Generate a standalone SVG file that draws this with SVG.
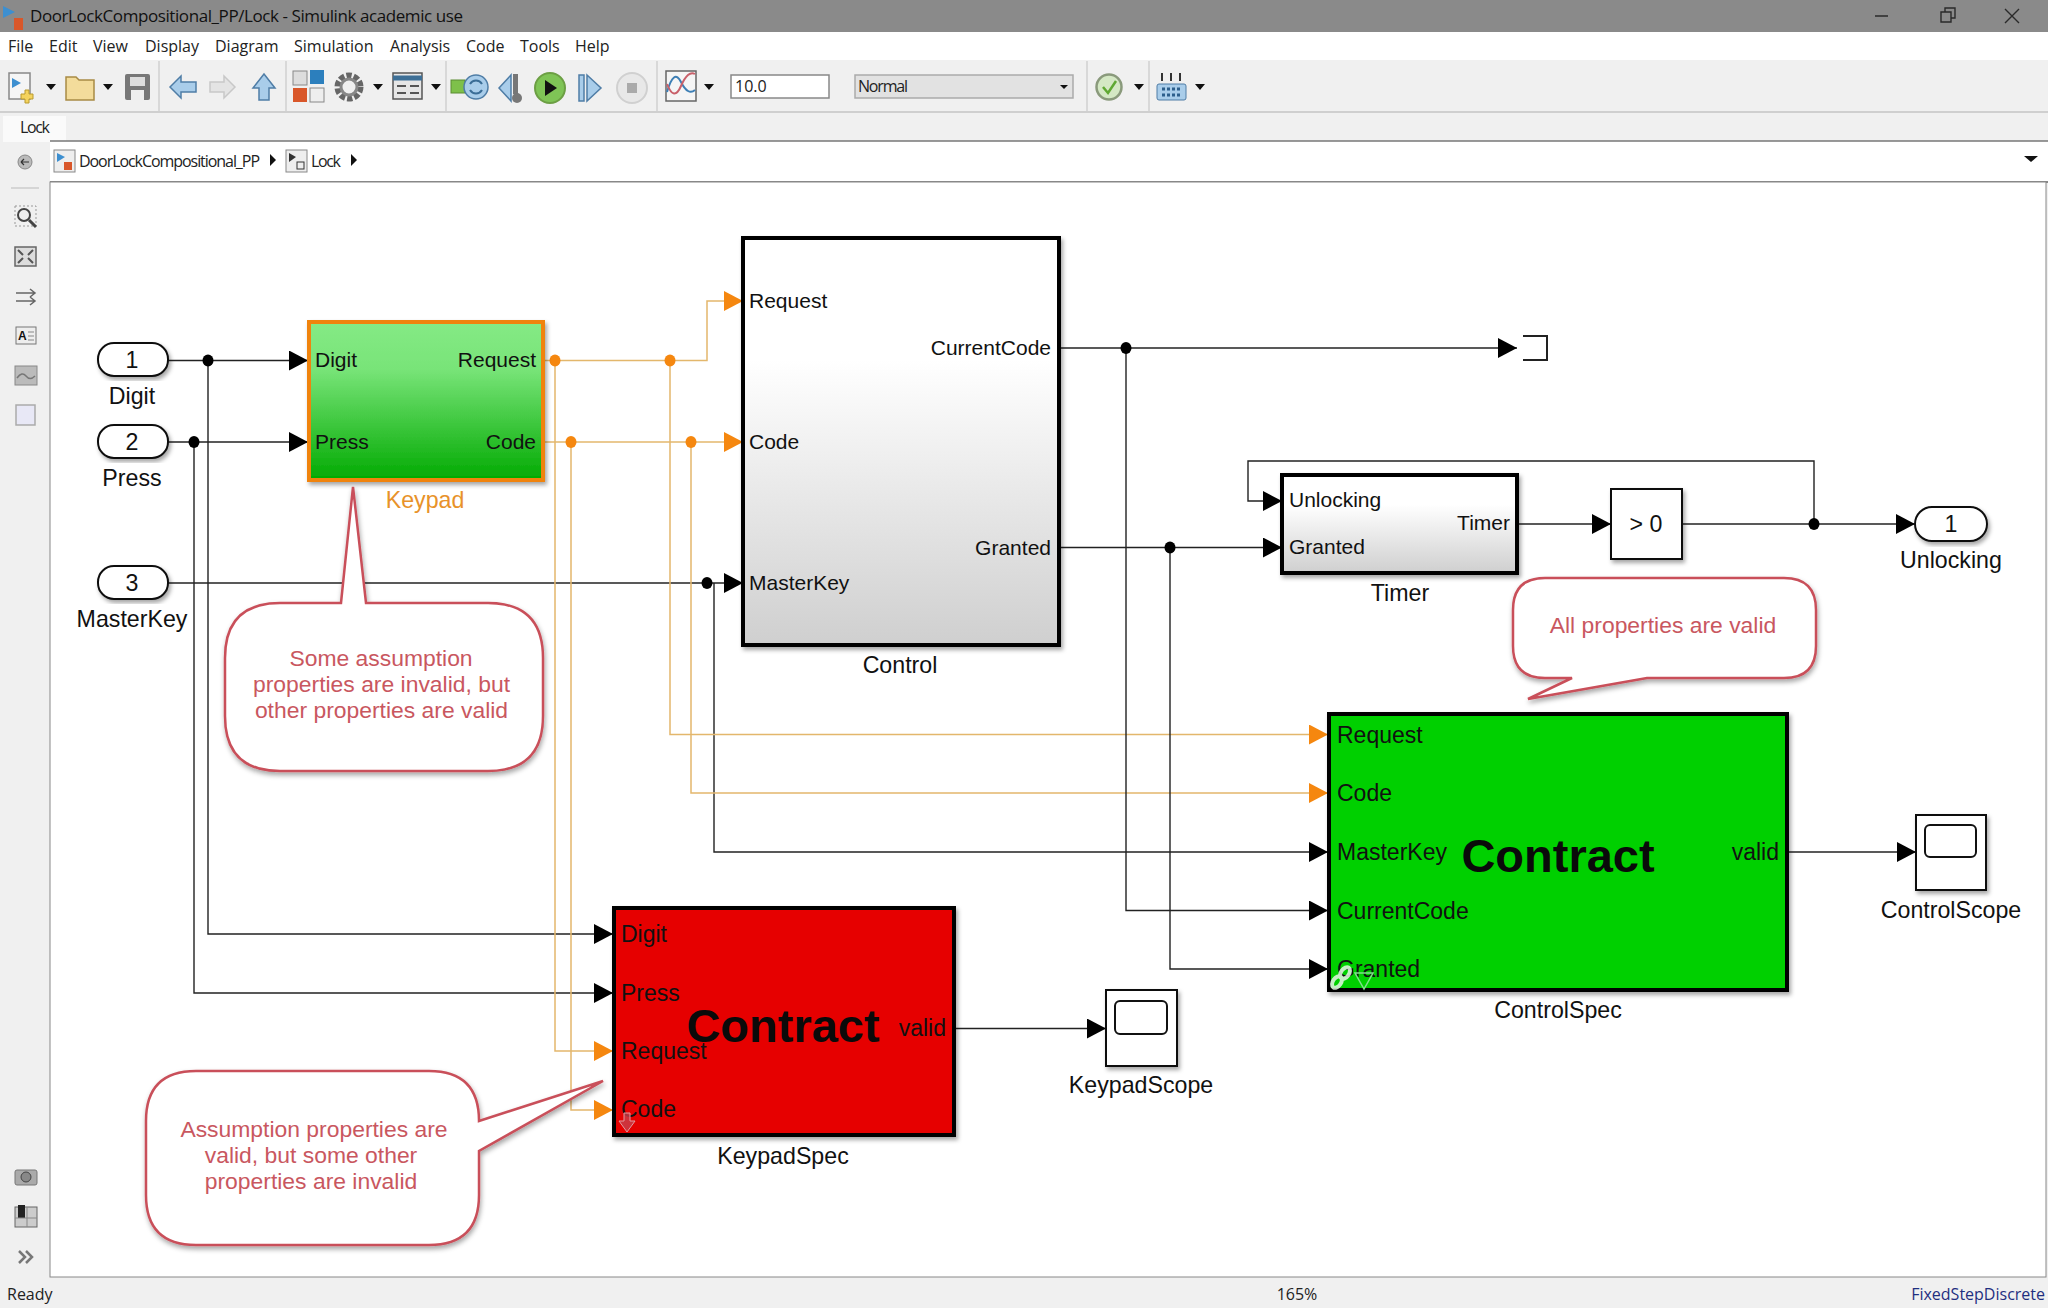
<svg xmlns="http://www.w3.org/2000/svg" width="2048" height="1308" viewBox="0 0 2048 1308">
<style>
text{font-family:"Liberation Sans",Arial,sans-serif;fill:#111}
.ui{font-family:"Open Sans","Noto Sans",sans-serif;font-size:16px;fill:#222}
.p{font-size:21px}.s{font-size:23px}.n{font-size:23.2px;text-anchor:middle}.e{text-anchor:end}
.c{font-size:47px;font-weight:700;text-anchor:middle;fill:#0a0a0a}
.k{fill:none;stroke:#222;stroke-width:1.4}
.o{fill:none;stroke:#e3b76c;stroke-width:1.5}
.ka{marker-end:url(#ab)}.oa{marker-end:url(#ao)}
.call{fill:#fff;stroke:#c9505a;stroke-width:2.5;filter:url(#sh2);stroke-linejoin:miter}
.ct{font-size:22.9px;text-anchor:middle;fill:#c9575f}
.blk{stroke:#000;stroke-width:4;filter:url(#sh)}
.thin{fill:#fff;stroke:#111;stroke-width:2;filter:url(#sh)}
.port{fill:#fff;stroke:#111;stroke-width:2;filter:url(#sh)}
.tri{fill:#111}.sep{stroke:#cfcfcf;stroke-width:1.5}
.ic{fill:#dcdcdc;stroke:#666;stroke-width:1.5}
.blue{fill:#a9cdea;stroke:#4f7da6;stroke-width:1.5}
</style>
<defs>
<marker id="ab" markerUnits="userSpaceOnUse" markerWidth="20" markerHeight="20" refX="19" refY="10" orient="auto"><path d="M0 0L19 10L0 20Z" fill="#000"/></marker>
<marker id="ao" markerUnits="userSpaceOnUse" markerWidth="20" markerHeight="20" refX="19" refY="10" orient="auto"><path d="M0 0L19 10L0 20Z" fill="#f5870f"/></marker>
<linearGradient id="gk" x1="0" y1="0" x2="0" y2="1"><stop offset="0" stop-color="#85ea85"/><stop offset=".3" stop-color="#78e478"/><stop offset="1" stop-color="#02aa02"/></linearGradient>
<linearGradient id="gw" x1="0" y1="0" x2="0" y2="1"><stop offset="0" stop-color="#fff"/><stop offset=".3" stop-color="#fff"/><stop offset="1" stop-color="#cfcfcf"/></linearGradient>
<filter id="sh" x="-10%" y="-10%" width="125%" height="125%"><feDropShadow dx="2" dy="3" stdDeviation="2" flood-color="#000" flood-opacity=".35"/></filter>
<filter id="sh2" x="-10%" y="-10%" width="125%" height="125%"><feDropShadow dx="1" dy="3" stdDeviation="2.5" flood-color="#000" flood-opacity=".35"/></filter>
</defs>

<rect width="2048" height="1308" fill="#f0f0f0"/>
<g id="titlebar">
<rect width="2048" height="32" fill="#8a8a8a"/>
<path d="M3 6L15 12L3 18Z" fill="#3d8fd0"/><rect x="14" y="18" width="9" height="12" fill="#d9572a"/>
<text class="ui" x="30" y="22" textLength="433" style="font-size:17px;fill:#111">DoorLockCompositional_PP/Lock - Simulink academic use</text>
<path d="M1875 16H1888M1941 12h10v10h-10zM1945 12v-4h10v10h-4M2005 9l14 14M2019 9l-14 14" fill="none" stroke="#2a2a2a" stroke-width="1.4"/>
</g>
<g id="menubar">
<rect y="32" width="2048" height="28" fill="#fff"/>
<text class="ui" x="8" y="52">File</text><text class="ui" x="49" y="52">Edit</text><text class="ui" x="93" y="52">View</text><text class="ui" x="145" y="52">Display</text><text class="ui" x="215" y="52">Diagram</text><text class="ui" x="294" y="52">Simulation</text><text class="ui" x="390" y="52">Analysis</text><text class="ui" x="466" y="52">Code</text><text class="ui" x="520" y="52">Tools</text><text class="ui" x="575" y="52">Help</text>
</g>
<g id="toolbar">
<line x1="0" y1="112" x2="2048" y2="112" stroke="#c4c4c4" stroke-width="1.5"/>
<path class="sep" d="M159 61V112M286 61V112M446 61V112M657 61V112M1087 61V112M1149 61V112"/>
<rect x="9" y="73" width="21" height="26" fill="#f5f5f5" stroke="#888" stroke-width="1.5"/><path d="M12 78l9 5l-9 5z" fill="#3d8fd0"/><path d="M25 90h4v4h4v5h-4v4h-4v-4h-4v-5h4z" fill="#f4d35e" stroke="#b99a2e"/>
<path class="tri" d="M46 84h10l-5 6zM103 84h10l-5 6zM373 84h10l-5 6zM431 84h10l-5 6zM704 84h10l-5 6zM1134 84h10l-5 6zM1195 84h10l-5 6z"/>
<path d="M66 77h10l3 3h15v20H66z" fill="#f3dc9b" stroke="#a88b45" stroke-width="1.5"/>
<rect x="125" y="74" width="25" height="26" rx="2" fill="#777"/><rect x="130" y="77" width="15" height="9" fill="#ddd"/><rect x="131" y="90" width="13" height="10" fill="#eee"/>
<path class="blue" d="M170 87l11-11v6h15v10h-15v6z"/>
<path d="M235 87l-11-11v6h-14v10h14v6z" fill="#e4e4e4" stroke="#c8c8c8" stroke-width="1.5"/>
<path class="blue" d="M264 74l11 14h-6v12h-10V88h-6z"/>
<rect x="293" y="71" width="14" height="14" fill="#ddd" stroke="#888"/><rect x="310" y="70" width="14" height="14" fill="#2c7fbd"/><rect x="293" y="88" width="14" height="14" fill="#d9572a"/><rect x="310" y="88" width="14" height="14" fill="#eee" stroke="#888"/>
<circle cx="349" cy="87" r="11" fill="none" stroke="#666" stroke-width="7" stroke-dasharray="5 2"/><circle cx="349" cy="87" r="8" fill="none" stroke="#888" stroke-width="3"/>
<rect x="393" y="73" width="29" height="26" fill="#e6e6e6" stroke="#555" stroke-width="1.5"/><path d="M393 78h29" stroke="#3d6f96" stroke-width="5"/><path d="M397 86h9M410 86h9M397 93h9M410 93h9" stroke="#555" stroke-width="2"/>
<rect x="451" y="80" width="14" height="13" fill="#7ec04a" stroke="#5a8c32"/><circle cx="476" cy="87" r="12" class="blue"/><path d="M470 84a7 7 0 0 1 12 0M482 90a7 7 0 0 1-12 0" fill="none" stroke="#3b6d96" stroke-width="2"/>
<path class="blue" d="M499 88l12-13v26z"/><rect x="513" y="74" width="5" height="20" fill="#777"/><circle cx="517" cy="98" r="5" fill="#777"/>
<circle cx="550" cy="88" r="15" fill="#7fc456" stroke="#6c9f44" stroke-width="2"/><path d="M545 80l12 8l-12 8z" fill="#111"/>
<rect x="579" y="75" width="5" height="26" class="blue"/><path class="blue" d="M587 75l14 13l-14 13z"/>
<circle cx="632" cy="88" r="15" fill="#e8e8e8" stroke="#d0d0d0" stroke-width="2"/><rect x="627" y="83" width="10" height="10" fill="#aaa"/>
<rect x="666" y="71" width="30" height="30" fill="#f5f5f5" stroke="#666" stroke-width="1.5"/><path d="M667 92q7-24 14-10t14 8" fill="none" stroke="#3d7fb5" stroke-width="2"/><path d="M667 84q7 18 14 2t14-12" fill="none" stroke="#c9606a" stroke-width="2"/>
<rect x="731" y="75" width="98" height="23" fill="#fff" stroke="#888" stroke-width="1.5"/><text class="ui" x="735" y="92">10.0</text>
<rect x="855" y="75" width="218" height="23" fill="#e2e2e2" stroke="#aaa" stroke-width="1.5"/><text class="ui" x="858" y="92" textLength="50">Normal</text><path class="tri" d="M1060 85h8l-4 4z"/>
<circle cx="1109" cy="87" r="12.5" fill="#d4e8c4" stroke="#8a9a7c" stroke-width="2.5"/><path d="M1103 87l5 6l8-12" fill="none" stroke="#5fa832" stroke-width="2.5"/>
<rect x="1157" y="84" width="29" height="16" rx="2" fill="#a9cdea" stroke="#4f7da6"/><path d="M1162 73v8M1171 73v8M1180 73v8" stroke="#333" stroke-width="2"/><path d="M1162 89h20M1162 95h20" stroke="#2d5f8c" stroke-width="3" stroke-dasharray="3 2"/>
</g>
<g id="tabs">
<rect x="3" y="116" width="63" height="26" fill="#fafafa"/>
<text class="ui" x="20" y="133" textLength="30">Lock</text>
</g>
<g id="breadcrumb">
<rect x="50" y="141" width="1998" height="41" fill="#fff"/>
<path d="M50 141H2048" stroke="#777" stroke-width="1.5"/><path d="M50 182H2048" stroke="#888" stroke-width="2"/>
<rect x="54" y="150" width="21" height="22" fill="#eee" stroke="#888"/><path d="M57 153l8 4l-8 5z" fill="#3d8fd0"/><rect x="64" y="162" width="8" height="8" fill="#d9572a"/>
<text class="ui" x="79" y="167" textLength="181">DoorLockCompositional_PP</text><path class="tri" d="M270 154l6 6l-6 6z"/>
<rect x="286" y="150" width="21" height="22" fill="#eee" stroke="#888"/><path d="M289 153l7 4l-7 5z" fill="#333"/><rect x="297" y="162" width="7" height="7" fill="none" stroke="#333"/>
<text class="ui" x="311" y="167" textLength="30">Lock</text><path class="tri" d="M351 154l6 6l-6 6z"/>
<path class="tri" d="M2024 156h14l-7 6z"/>
</g>
<g id="sidebar">
<rect x="50" y="182" width="1996" height="1095" fill="#fff" stroke="#888" stroke-width="1"/>
<circle cx="25" cy="162" r="7" fill="#bbb" stroke="#888"/><path d="M21 162h8M21 162l3-3M21 162l3 3" stroke="#333" stroke-width="1.2" fill="none"/>
<line x1="11" y1="188" x2="39" y2="188" stroke="#ccc" stroke-width="1.5"/>
<rect x="15" y="206" width="21" height="20" fill="none" stroke="#999" stroke-dasharray="2 2"/><circle cx="24" cy="215" r="6" fill="#eee" stroke="#444" stroke-width="2"/><path d="M29 220l7 7" stroke="#444" stroke-width="3"/>
<rect x="15" y="247" width="21" height="19" class="ic"/><path d="M18 250l5 5M33 250l-5 5M18 263l5-5M33 263l-5-5" stroke="#555" stroke-width="2"/>
<path d="M16 293h18M16 301h18M30 289l5 4l-5 4M30 297l5 4l-5 4" fill="none" stroke="#666" stroke-width="1.5"/>
<rect x="16" y="327" width="20" height="17" fill="#eee" stroke="#777"/><text x="18" y="340" style="font-size:12px;font-weight:700">A</text><path d="M28 332h6M28 336h6M28 340h6" stroke="#888"/>
<rect x="15" y="366" width="22" height="19" fill="#bbb" stroke="#888"/><path d="M17 378q5-7 9-2t9 0" fill="none" stroke="#777" stroke-width="1.5"/>
<rect x="16" y="405" width="19" height="20" fill="#e8e8f6" stroke="#aaa" stroke-width="1.5"/>
<rect x="15" y="1170" width="22" height="15" rx="2" fill="#aaa" stroke="#777"/><circle cx="26" cy="1177" r="5" fill="#888" stroke="#444"/>
<rect x="15" y="1207" width="22" height="20" fill="#ccc" stroke="#666"/><rect x="18" y="1205" width="7" height="13" fill="#222"/><path d="M15 1218h22M27 1207v20" stroke="#888"/>
<path d="M19 1251l6 6l-6 6M26 1251l6 6l-6 6" fill="none" stroke="#777" stroke-width="2.5"/>
</g>
<g id="statusbar">
<text class="ui" x="7" y="1300">Ready</text>
<text class="ui" x="1297" y="1300" text-anchor="middle">165%</text>
<text class="ui" x="2045" y="1300" text-anchor="end" style="font-size:16px;fill:#1f2f80">FixedStepDiscrete</text>
</g>

<g id="connectors">
<path class="k ka" d="M168 360.5H308"/><path class="k ka" d="M208 360.5V934H613"/>
<path class="k ka" d="M168 442H308"/><path class="k ka" d="M194 442V993H613"/>
<path class="k ka" d="M168 583H743"/><path class="k ka" d="M714 583V852H1328"/>
<path class="o oa" d="M543 360.5H707V301H743"/><path class="o oa" d="M555 360.5V1051H613"/><path class="o oa" d="M670 360.5V734.500H1328"/>
<path class="o oa" d="M543 442H743"/><path class="o oa" d="M571 442V1110H613"/><path class="o oa" d="M691 442V793H1328"/>
<path class="k ka" d="M1059 348H1517"/><path class="k ka" d="M1126 348V910.500H1328"/>
<path class="k ka" d="M1059 547.500H1282"/><path class="k ka" d="M1170 547.500V969H1328"/>
<path class="k ka" d="M1517 524H1611"/><path class="k ka" d="M1682 524H1915"/><path class="k ka" d="M1814 524V461H1248V501H1282"/>
<path class="k ka" d="M1788 852H1916"/><path class="k ka" d="M955 1028.500H1106"/>
<g fill="#000"><ellipse cx="208" cy="360.5" rx="5.5" ry="6"/><ellipse cx="194" cy="442" rx="5.5" ry="6"/><ellipse cx="707" cy="583" rx="5.5" ry="6"/><ellipse cx="1126" cy="348" rx="5.5" ry="6"/><ellipse cx="1170" cy="547.5" rx="5.5" ry="6"/><ellipse cx="1814" cy="524" rx="5.5" ry="6"/></g>
<g fill="#f5870f"><ellipse cx="555" cy="360.5" rx="5.5" ry="6"/><ellipse cx="670" cy="360.5" rx="5.5" ry="6"/><ellipse cx="571" cy="442" rx="5.5" ry="6"/><ellipse cx="691" cy="442" rx="5.5" ry="6"/></g>
</g>

<g id="inport1"><rect class="port" x="98" y="343" width="70" height="33" rx="16"/><text class="n" x="132" y="368">1</text><text class="n" x="132" y="404">Digit</text></g>
<g id="inport2"><rect class="port" x="98" y="425" width="70" height="33" rx="16"/><text class="n" x="132" y="450">2</text><text class="n" x="132" y="486">Press</text></g>
<g id="inport3"><rect class="port" x="98" y="566" width="70" height="33" rx="16"/><text class="n" x="132" y="591">3</text><text class="n" x="132" y="627">MasterKey</text></g>
<g id="keypad"><rect x="309" y="322" width="234" height="158" fill="url(#gk)" stroke="#f0830f" stroke-width="4" filter="url(#sh)"/>
<text class="p" x="315" y="367">Digit</text><text class="p" x="315" y="449">Press</text><text class="p e" x="536" y="367">Request</text><text class="p e" x="536" y="449">Code</text>
<text class="n" x="425" y="508" style="fill:#e8922a">Keypad</text></g>
<g id="control"><rect class="blk" x="743" y="238" width="316" height="407" fill="url(#gw)"/>
<text class="p" x="749" y="308">Request</text><text class="p" x="749" y="449">Code</text><text class="p" x="749" y="590">MasterKey</text><text class="p e" x="1051" y="355">CurrentCode</text><text class="p e" x="1051" y="555">Granted</text>
<text class="n" x="900" y="673">Control</text></g>
<g id="terminator"><path d="M1523 336H1547V360H1523" fill="none" stroke="#222" stroke-width="2"/></g>
<g id="timer"><rect class="blk" x="1282" y="475" width="235" height="98" fill="url(#gw)"/>
<text class="p" x="1289" y="507">Unlocking</text><text class="p" x="1289" y="554">Granted</text><text class="p e" x="1510" y="530">Timer</text>
<text class="n" x="1400" y="601">Timer</text></g>
<g id="compare"><rect class="thin" x="1611" y="489" width="71" height="70"/><text class="n" x="1646" y="532">&gt; 0</text></g>
<g id="outport1"><rect class="port" x="1915" y="507" width="72" height="34" rx="17"/><text class="n" x="1951" y="532">1</text><text class="n" x="1951" y="568">Unlocking</text></g>
<g id="controlspec"><rect class="blk" x="1329" y="714" width="458" height="276" fill="#00d000"/>
<text class="s" x="1337" y="743">Request</text><text class="s" x="1337" y="801">Code</text><text class="s" x="1337" y="860">MasterKey</text><text class="s" x="1337" y="919">CurrentCode</text><text class="s" x="1337" y="977">Granted</text>
<text class="c" x="1558" y="872">Contract</text><text class="s e" x="1779" y="860">valid</text>
<g opacity=".85" fill="none" stroke="#e8f5e8" stroke-width="4"><ellipse cx="1337" cy="982" rx="6.500" ry="4" transform="rotate(-55 1337 982)"/><ellipse cx="1345" cy="973" rx="6.500" ry="4" transform="rotate(-55 1345 973)"/></g>
<path d="M1355 973H1373L1364 989Z" fill="none" stroke="#7fe08a" stroke-width="1.500"/>
<text class="n" x="1558" y="1018">ControlSpec</text></g>
<g id="controlscope"><rect class="thin" x="1916" y="815" width="70" height="75"/><rect x="1925" y="825" width="51" height="32" rx="5" fill="#fff" stroke="#111" stroke-width="2"/><text class="n" x="1951" y="918">ControlScope</text></g>
<g id="keypadspec"><rect class="blk" x="614" y="908" width="340" height="227" fill="#e60000"/>
<text class="s" x="621" y="942">Digit</text><text class="s" x="621" y="1001">Press</text><text class="s" x="621" y="1059">Request</text><text class="s" x="621" y="1117">Code</text>
<text class="c" x="783" y="1042">Contract</text><text class="s e" x="946" y="1036">valid</text>
<path d="M624 1113h6v8h5l-8 11l-8-11h5z" fill="#c8404a" fill-opacity=".8" stroke="#e09aa0"/>
<text class="n" x="783" y="1164">KeypadSpec</text></g>
<g id="keypadscope"><rect class="thin" x="1106" y="990" width="71" height="76"/><rect x="1115" y="1001" width="52" height="33" rx="5" fill="#fff" stroke="#111" stroke-width="2"/><text class="n" x="1141" y="1093">KeypadScope</text></g>

<g id="callout1"><path class="call" d="M341 603L353 487L366 603H488Q543 603 543 658V716Q543 771 488 771H280Q225 771 225 716V658Q225 603 280 603Z"/>
<text class="ct" x="381" y="666">Some assumption</text><text class="ct" x="381.500" y="692">properties are invalid, but</text><text class="ct" x="381.500" y="718">other properties are valid</text></g>
<g id="callout2"><path class="call" d="M196 1071H429Q479 1071 479 1121L603 1081L479 1151V1195Q479 1245 429 1245H196Q146 1245 146 1195V1121Q146 1071 196 1071Z"/>
<text class="ct" x="314" y="1137">Assumption properties are</text><text class="ct" x="311" y="1163">valid, but some other</text><text class="ct" x="311" y="1189">properties are invalid</text></g>
<g id="callout3"><path class="call" d="M1545 578H1784Q1816 578 1816 610V646Q1816 678 1784 678H1647L1528 699L1572 678H1545Q1513 678 1513 646V610Q1513 578 1545 578Z"/>
<text class="ct" x="1663" y="633">All properties are valid</text></g>
</svg>
